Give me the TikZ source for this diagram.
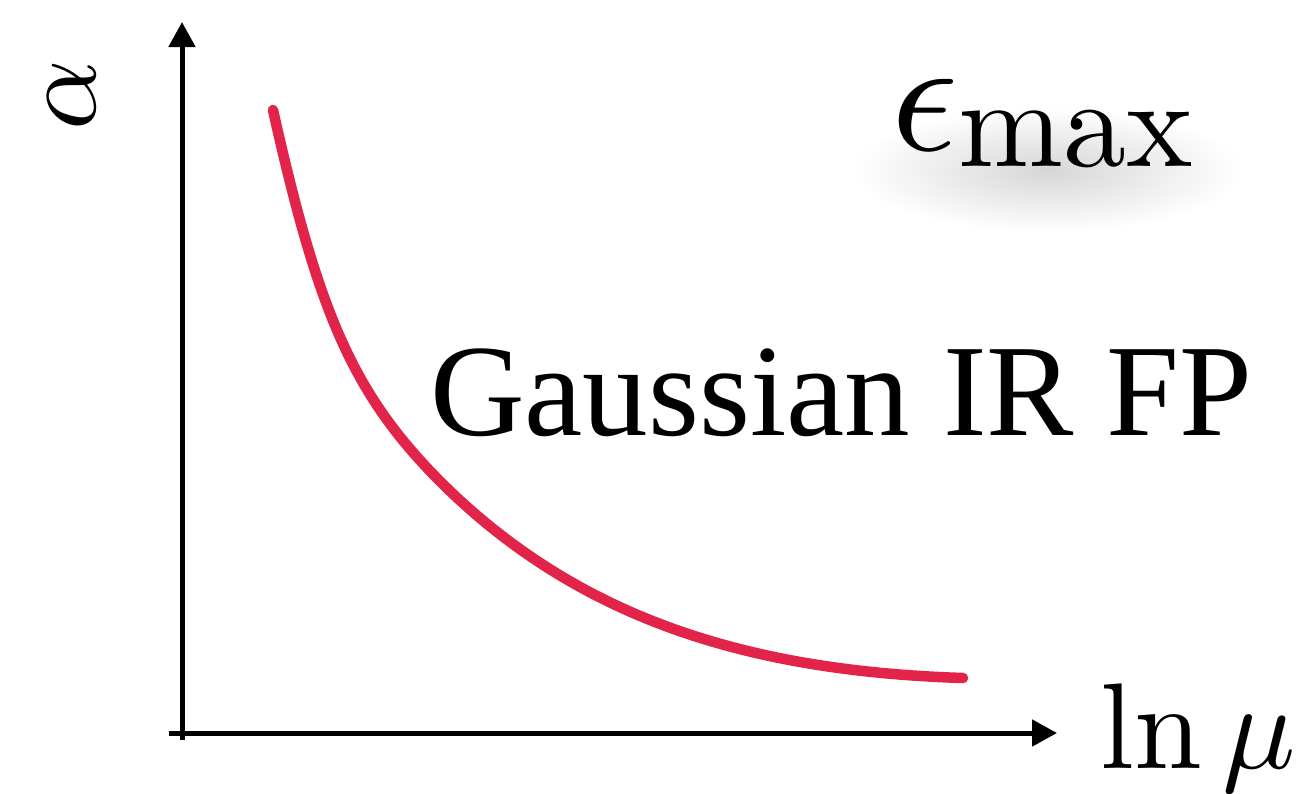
\documentclass[tikz,border=0pt]{standalone}
\usepackage{fontspec}
\usepackage{graphicx}
\newfontfamily\gfont{Liberation Serif}
\usetikzlibrary{arrows.meta}
\definecolor{curvered}{RGB}{226,35,74}
\tikzset{
  axis/.style={line width=5pt,-{Triangle[length=25pt,width=26pt]}},
  lbl/.style={inner sep=0pt,anchor=base west},
}
\begin{document}
\begin{tikzpicture}[x=1pt,y=-1pt]
\useasboundingbox (0,0) rectangle (1306,793);
% soft shadow behind epsilon_max
\shade[inner color=black!16,outer color=white] (1048,170) ellipse [x radius=195,y radius=62];
% axes
\coordinate (ybot) at (182,740);
\coordinate (ytop) at (182,22);
\coordinate (xleft) at (169,733);
\coordinate (xright) at (1057,733);
\draw[axis] (ybot) -- (ytop);
\draw[axis] (xleft) -- (xright);
% curve
\coordinate (c0) at (273,110);
\coordinate (c1) at (452,493);
\coordinate (c2) at (963,678);
\draw[curvered,line width=10.5pt,line cap=round]
  (c0) .. controls (320,320) and (355,400) .. (c1)
       .. controls (582,616) and (743,671) .. (c2);
% labels
\node[inner sep=0pt,rotate=90] (alpha) at (72,95) {\scalebox{11}{$\alpha$}};
\node[lbl] (lnmu) at (1100,768) {\scalebox{12.2}{$\ln\mu$}};
\node[lbl,font=\gfont\fontsize{131}{150}\selectfont] (gauss) at (430,435) {Gaussian IR FP};
\node[lbl] (emax) at (891,150) {\scalebox{16.5}{$\epsilon$}\raisebox{-17pt}{\scalebox{12.6}{max}}};
\end{tikzpicture}
\end{document}
